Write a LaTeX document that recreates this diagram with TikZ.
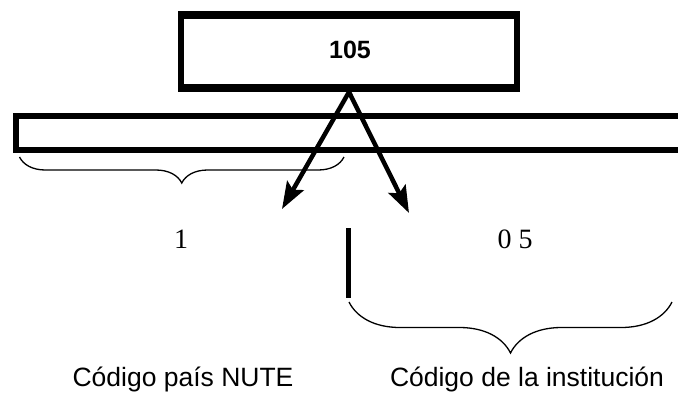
\documentclass[tikz,border=0pt]{standalone}
\usepackage{fontspec}
\setmainfont{Liberation Serif}
\setsansfont{Liberation Sans}
\usetikzlibrary{arrows.meta,decorations.pathreplacing}

\begin{document}
\begin{tikzpicture}[x=1pt,y=-1pt,
    digit/.style={anchor=base, font=\fontsize{28}{32}\selectfont},
    caption/.style={anchor=base, font=\sffamily\fontsize{26.5}{30}\selectfont},
    pointer/.style={line width=4.5pt, -{Stealth[length=27pt,width=19pt,inset=5pt]}},
    curly/.style={decorate, decoration={brace, mirror, amplitude=#1}, line width=1.3pt}]
            \clip (0,0) rectangle (678,392);
            
            % Code box on top
            \node[draw, line width=6pt, minimum width=336pt, minimum height=75pt] 
                (code) at (349,51.5) {};
            \node[anchor=base, font=\sffamily\bfseries\fontsize{25}{30}\selectfont] 
                (codetext) at (350,58) {105};
            \fill (code.north west) rectangle ([yshift=-8pt]code.north east);
            \fill (code.south west) rectangle ([yshift=8pt]code.south east);
            
            % Long field bar
            \node[draw, line width=6pt, minimum width=700pt, minimum height=34pt, anchor=west] 
                (bar) at (12.5,133) {};
            
            % Digits and captions
            \node[digit] (one) at (181,248) {1};
            \node[digit] (zerofive) at (515,248) {0 5};
            \node[caption] (nute) at (183,386.5) {Código país NUTE};
            \node[caption] (inst) at (527,386.5) {Código de la institución};
            
            % Arrow ends
            \coordinate (leftend) at (282,209);
            \coordinate (rightend) at (409,213);
            
            % Draw arrows from the code box down
            \draw[pointer] (code.south) -- (leftend);
            \draw[pointer] (code.south) -- (rightend);
            
            % Separator and braces
            \draw[line width=5pt] (348.5,228) -- (348.5,298);
            \draw[curly=26pt] (19.5,157) -- (344,157);
            \draw[curly=51pt] (349,302) -- (672,302);
        \end{tikzpicture}
\end{document}
